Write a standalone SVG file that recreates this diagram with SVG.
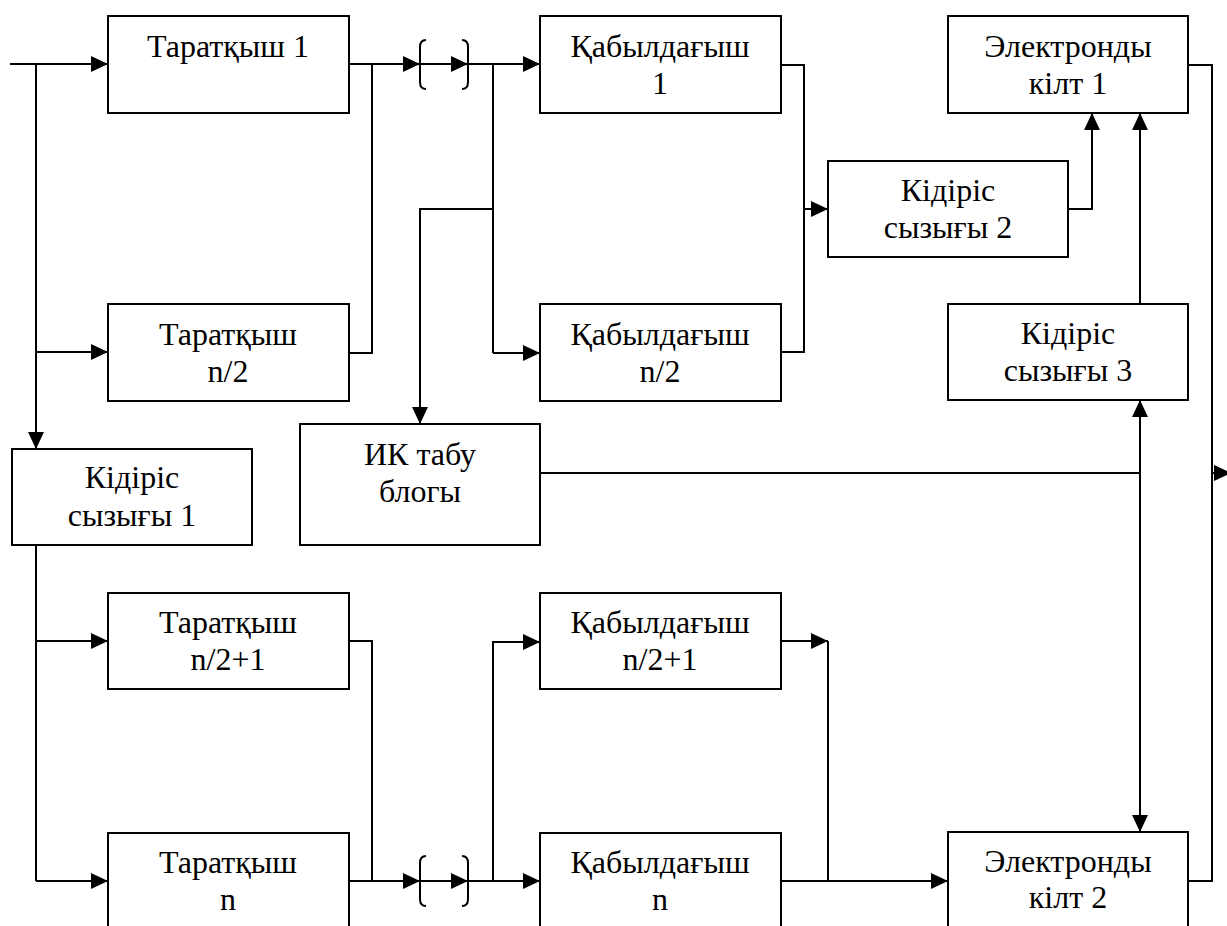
<svg xmlns="http://www.w3.org/2000/svg" width="1227" height="926" viewBox="0 0 1227 926">
<style>
.box{fill:#fff;stroke:#000;stroke-width:2}
.t{font-family:"Liberation Serif","Times New Roman",serif;font-size:32px;fill:#000;text-anchor:middle}
.w{fill:none;stroke:#000;stroke-width:2}
.a{marker-end:url(#arr)}
</style>
<defs>
<marker id="arr" markerUnits="userSpaceOnUse" markerWidth="20" markerHeight="20" refX="17" refY="8" orient="auto" overflow="visible">
<path d="M0,0 L17,8 L0,16 z" fill="#000"/>
</marker>
</defs>
<g id="connectors">
<path class="w a" d="M10,64 H108"/>
<path class="w" d="M36,64 V352"/>
<path class="w a" d="M36,352 H108"/>
<path class="w a" d="M36,352 V449"/>
<path class="w" d="M349,64 H372 V353 H349"/>
<path class="w a" d="M372,64 H420"/>
<path class="w a" d="M420,64 H468"/>
<path class="w a" d="M468,64 H540"/>
<path class="w" d="M426,40 Q420,40 420,47 V82 Q420,89 426,89"/>
<path class="w" d="M462,40 Q468,40 468,47 V82 Q468,89 462,89"/>
<path class="w" d="M493,64 V353"/>
<path class="w a" d="M493,353 H540"/>
<path class="w a" d="M493,209 H420 V424"/>
<path class="w" d="M781,65 H804 V352 H781"/>
<path class="w a" d="M804,209 H828"/>
<path class="w a" d="M1068,209 H1092 V113"/>
<path class="w a" d="M1140,304 V113"/>
<path class="w a" d="M1140,473 V400"/>
<path class="w a" d="M1140,473 V832"/>
<path class="w" d="M540,473 H1140"/>
<path class="w" d="M1188,65 H1212 V881 H1188"/>
<path class="w a" d="M1212,473 H1231"/>
<path class="w" d="M36,545 V881"/>
<path class="w a" d="M36,641 H108"/>
<path class="w a" d="M36,881 H108"/>
<path class="w" d="M349,641 H372 V881"/>
<path class="w a" d="M349,881 H420"/>
<path class="w a" d="M420,881 H468"/>
<path class="w a" d="M468,881 H540"/>
<path class="w" d="M426,856 Q420,856 420,863 V899 Q420,906 426,906"/>
<path class="w" d="M462,856 Q468,856 468,863 V899 Q468,906 462,906"/>
<path class="w a" d="M493,881 V642 H540"/>
<path class="w a" d="M781,641 H828"/>
<path class="w" d="M828,641 V881"/>
<path class="w a" d="M781,881 H948"/>
</g>
<g id="tx1"><rect class="box" x="108" y="16" width="241" height="97"/><text class="t" x="228" y="57">Таратқыш 1</text></g>
<g id="txn2"><rect class="box" x="108" y="304" width="241" height="97"/><text class="t" x="228" y="345">Таратқыш</text><text class="t" x="228" y="382">n/2</text></g>
<g id="rx1"><rect class="box" x="540" y="16" width="241" height="97"/><text class="t" x="660" y="57">Қабылдағыш</text><text class="t" x="660" y="94">1</text></g>
<g id="rxn2"><rect class="box" x="540" y="304" width="241" height="97"/><text class="t" x="660" y="345">Қабылдағыш</text><text class="t" x="660" y="382">n/2</text></g>
<g id="key1"><rect class="box" x="948" y="16" width="240" height="97"/><text class="t" x="1068" y="57">Электронды</text><text class="t" x="1068" y="94">кілт 1</text></g>
<g id="delay2"><rect class="box" x="828" y="161" width="240" height="96"/><text class="t" x="948" y="201">Кідіріс</text><text class="t" x="948" y="238">сызығы 2</text></g>
<g id="delay3"><rect class="box" x="948" y="304" width="240" height="96"/><text class="t" x="1068" y="344">Кідіріс</text><text class="t" x="1068" y="381">сызығы 3</text></g>
<g id="delay1"><rect class="box" x="12" y="449" width="240" height="96"/><text class="t" x="132" y="488">Кідіріс</text><text class="t" x="132" y="526">сызығы 1</text></g>
<g id="ir"><rect class="box" x="300" y="424" width="240" height="121"/><text class="t" x="420" y="465">ИК табу</text><text class="t" x="420" y="502">блогы</text></g>
<g id="txn21"><rect class="box" x="108" y="593" width="241" height="96"/><text class="t" x="228" y="633">Таратқыш</text><text class="t" x="228" y="670">n/2+1</text></g>
<g id="rxn21"><rect class="box" x="540" y="593" width="241" height="96"/><text class="t" x="660" y="633">Қабылдағыш</text><text class="t" x="660" y="670">n/2+1</text></g>
<g id="txn"><rect class="box" x="108" y="833" width="241" height="110"/><text class="t" x="228" y="873">Таратқыш</text><text class="t" x="228" y="910">n</text></g>
<g id="rxn"><rect class="box" x="540" y="833" width="241" height="110"/><text class="t" x="660" y="873">Қабылдағыш</text><text class="t" x="660" y="910">n</text></g>
<g id="key2"><rect class="box" x="948" y="832" width="240" height="110"/><text class="t" x="1068" y="872">Электронды</text><text class="t" x="1068" y="908">кілт 2</text></g>
</svg>
